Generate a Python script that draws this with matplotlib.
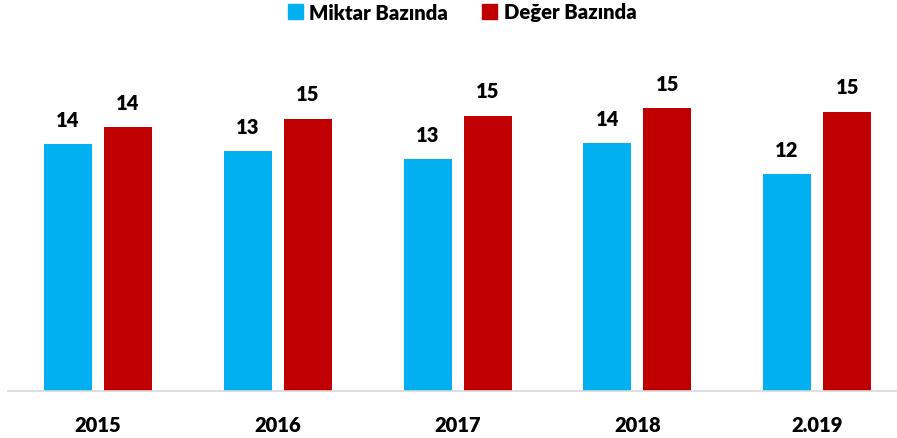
import numpy as np
import matplotlib.pyplot as plt
from matplotlib.patches import Patch

years = ['2015', '2016', '2017', '2018', '2.019']
miktar = [13.51, 13.11, 12.69, 13.55, 11.86]
deger = [14.43, 14.88, 15.06, 15.46, 15.28]

BLUE = '#00B0F0'
RED = '#C00000'

plt.rcParams['font.family'] = ['Lato', 'DejaVu Sans']

W, H = 897, 439
fig = plt.figure(figsize=(W / 100, H / 100), dpi=100)
base = 392.3
top = 30
ax = fig.add_axes([8 / W, (H - base) / H, 1 - 8 / W, (base - top) / H])

x = np.arange(len(years))
bw = 0.267
off = 0.167
b1 = ax.bar(x - off, miktar, bw, color=BLUE)
b2 = ax.bar(x + off, deger, bw, color=RED)

# value labels above each bar
for bars, vals in [(b1, miktar), (b2, deger)]:
    for rect, v in zip(bars, vals):
        ax.annotate(f'{v:.0f}', (rect.get_x() + rect.get_width() / 2, rect.get_height()),
                    xytext=(0, 18), textcoords='offset points',
                    ha='center', va='center', fontsize=14.5, fontweight='heavy')

ax.set_xlim(-0.5, 4.444)
ax.set_ylim(0, (base - top) / 18.3)
ax.set_xticks(x)
ax.set_xticklabels(years, fontsize=14.5, fontweight='heavy')
ax.tick_params(axis='x', length=0, pad=17)
ax.set_yticks([])
for s in ['top', 'right', 'left']:
    ax.spines[s].set_visible(False)
ax.spines['bottom'].set_color('#D9D9D9')
ax.spines['bottom'].set_linewidth(1.2)

handles = [Patch(color=BLUE, label='Miktar Bazında'), Patch(color=RED, label='Değer Bazında')]
fig.legend(handles=handles, loc='center', bbox_to_anchor=(0.515, 1 - 13 / H), ncol=2,
           frameon=False, handlelength=0.75, handleheight=0.75,
           handletextpad=0.3, columnspacing=1.7, prop={'weight': 'heavy', 'size': 14.6})

fig.savefig('out.png', dpi=100)
